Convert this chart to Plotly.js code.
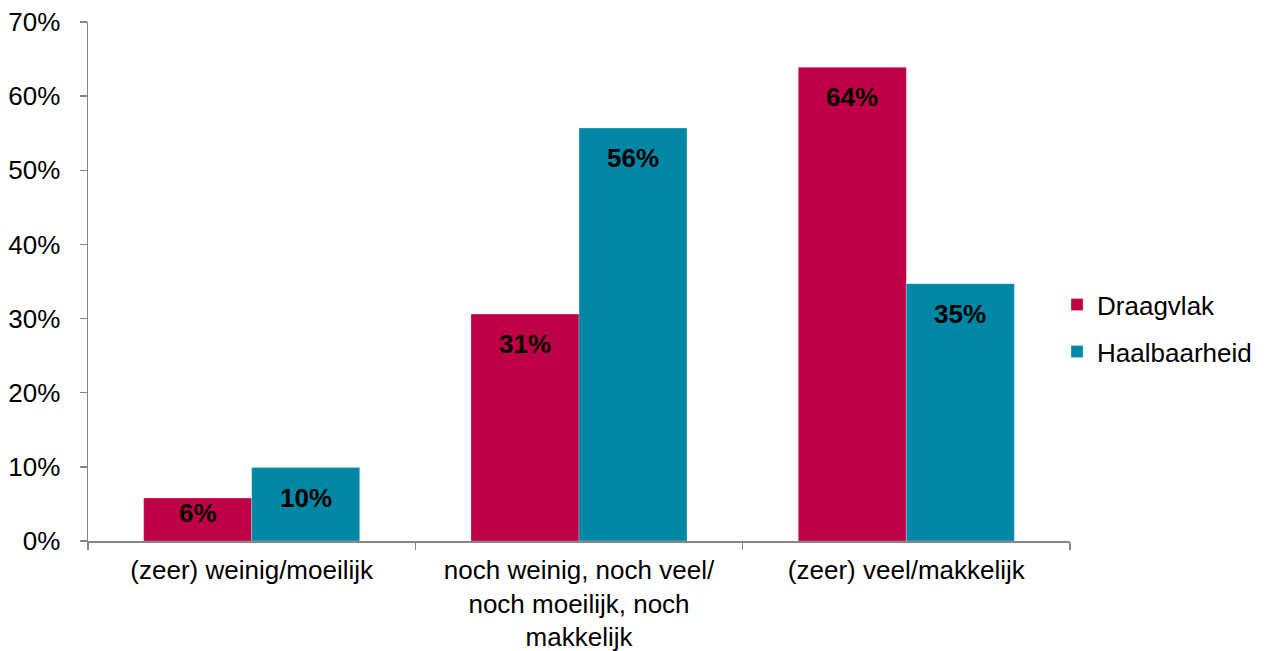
<!DOCTYPE html>
<html><head><meta charset="utf-8">
<script src="https://cdn.plot.ly/plotly-3.0.1.min.js"></script>
<style>html,body{margin:0;padding:0;background:#fff}</style>
</head><body>
<div id="chart" style="width:1271px;height:651px"></div>
<script>
var categories = ['(zeer) weinig/moeilijk', 'noch weinig, noch veel/<br>noch moeilijk, noch<br>makkelijk', '(zeer) veel/makkelijk'];
var draagvlak = [5.8, 30.6, 63.9];
var haalbaarheid = [9.9, 55.7, 34.7];
var seriesNames = ['Draagvlak', 'Haalbaarheid'];
var yTicks = [0, 10, 20, 30, 40, 50, 60, 70];

var colors = ['#C00046', '#0087A6'];
var font = 'Liberation Sans, Arial, sans-serif';
var fs = 26;

var traces = [draagvlak, haalbaarheid].map(function (vals, i) {
  return {
    type: 'bar', name: seriesNames[i], x: categories, y: vals,
    legendgroup: 'g' + i,
    marker: {color: colors[i], line: {color: 'rgba(255,255,255,0.5)', width: 0.5}},
    hoverinfo: 'skip'
  };
});

var annotations = [];
[draagvlak, haalbaarheid].forEach(function (vals, i) {
  vals.forEach(function (v, j) {
    var barPx = v * 7.41;
    var shift = Math.min(30, barPx / 2 - 6);
    annotations.push({
      x: categories[j], y: v, xref: 'x', yref: 'y',
      xshift: i === 0 ? -54 : 54, yshift: -shift,
      text: '<b>' + Math.round(v) + '%</b>', showarrow: false,
      font: {family: font, size: fs, color: '#000'}, yanchor: 'middle'
    });
  });
});

var layout = {
  width: 1271, height: 651,
  margin: {l: 88, r: 201, t: 22, b: 110},
  paper_bgcolor: '#fff', plot_bgcolor: '#fff',
  barmode: 'group', bargap: 0.34, bargroupgap: 0,
  font: {family: font, size: fs, color: '#000'},
  xaxis: {
    type: 'category', showline: true, linecolor: '#868686', linewidth: 1.5,
    ticks: 'outside', tickson: 'boundaries', ticklen: 7, tickcolor: '#868686', tickwidth: 1.5,
    showgrid: false, ticklabelstandoff: 5, tickfont: {family: font, size: fs, color: '#000'}
  },
  yaxis: {
    range: [0, 70], tickvals: yTicks, ticktext: yTicks.map(function (t) { return t + '%'; }),
    showline: true, linecolor: '#868686', linewidth: 1.5,
    ticks: 'outside', ticklen: 7, tickcolor: '#868686', tickwidth: 1.5,
    showgrid: false, zeroline: false, ticklabelstandoff: 14,
    tickfont: {family: font, size: fs, color: '#000'}
  },
  legend: {
    x: 0.9868, xanchor: 'left', y: 0.41, yanchor: 'middle',
    font: {family: font, size: fs, color: '#000'},
    traceorder: 'grouped', tracegroupgap: 10
  },
  showlegend: true,
  annotations: annotations
};

Plotly.newPlot('chart', traces, layout, {displayModeBar: false, staticPlot: true});
</script>
</body></html>
